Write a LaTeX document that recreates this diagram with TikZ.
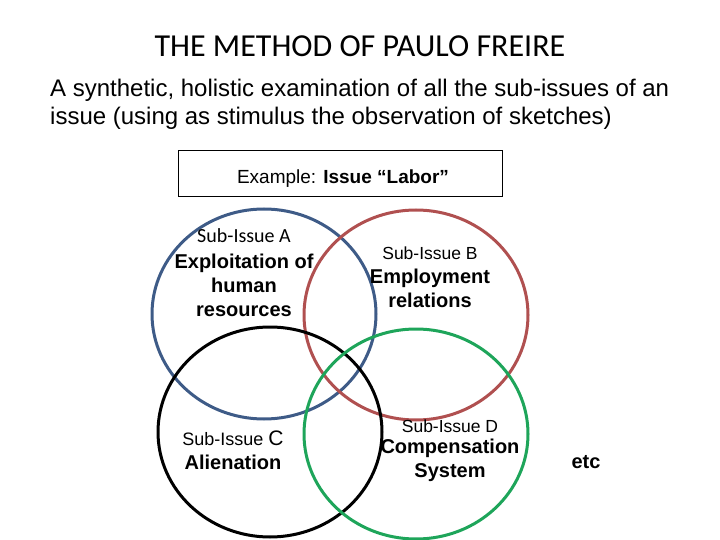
\documentclass[tikz,border=0pt]{standalone}
\usepackage{fontspec}
\setmainfont{Liberation Sans}
\newfontfamily\calibri{Carlito}
\usepackage{tikz}
\usetikzlibrary{shapes.geometric, positioning}

\definecolor{vennblue}{RGB}{62,91,135}
\definecolor{vennred}{RGB}{176,80,80}
\definecolor{venngreen}{RGB}{30,165,90}

\begin{document}
\begin{tikzpicture}[
    x=1pt, y=-1pt,
    venn/.style={draw, ellipse, line width=3pt, minimum width=224pt, minimum height=210pt, inner sep=0pt},
    sub/.style={font=\fontsize{17.5}{20}\selectfont, inner sep=0pt},
    topic/.style={font=\fontsize{20}{24}\selectfont\bfseries, align=center, inner sep=0pt}
]
\useasboundingbox (0,0) rectangle (720,540);

% circles
\node[venn, draw=vennblue] (circA) at (264,314) {};
\node[venn, draw=vennred] (circB) at (416,315) {};
\node[venn, draw=black] (circC) at (270,432) {};
\node[venn, draw=venngreen] (circD) at (416,434) {};

% heading
\node[font=\calibri\fontsize{32}{38}\selectfont, inner sep=0pt] (title) at (360,46) {THE METHOD OF PAULO FREIRE};
\node[font=\fontsize{24}{28}\selectfont, align=left, anchor=north west, inner sep=0pt] (intro) at (50,79)
    {A synthetic, holistic examination of all the sub-issues of an\\issue (using as stimulus the observation of sketches)};

\node[draw, line width=0.8pt, minimum width=324pt, minimum height=46pt] (example) at (340,173) {};
\node[font=\fontsize{19}{22}\selectfont, inner sep=0pt] (extext) at (343,179) {Example: \textbf{Issue “Labor”}};

% sub-issues
\node[sub, font=\calibri\fontsize{20}{22}\selectfont] (subA) at (244,236) {Sub-Issue A};
\node[topic] (topA) at (244,285) {Exploitation of\\human\\resources};
\node[sub] (subB) at (430,253) {Sub-Issue B};
\node[topic] (topB) at (430,288) {Employment\\relations};
\node[sub, font=\fontsize{18}{20}\selectfont] (subC) at (233,438) {Sub-Issue \fontsize{21}{21}\selectfont C};
\node[topic] (topC) at (233,462) {Alienation};
\node[sub] (subD) at (450,426) {Sub-Issue D};
\node[topic] (topD) at (450,460) {Compensation\\System};
\node[topic] (etc) at (586,462) {etc};
\end{tikzpicture}
\end{document}
